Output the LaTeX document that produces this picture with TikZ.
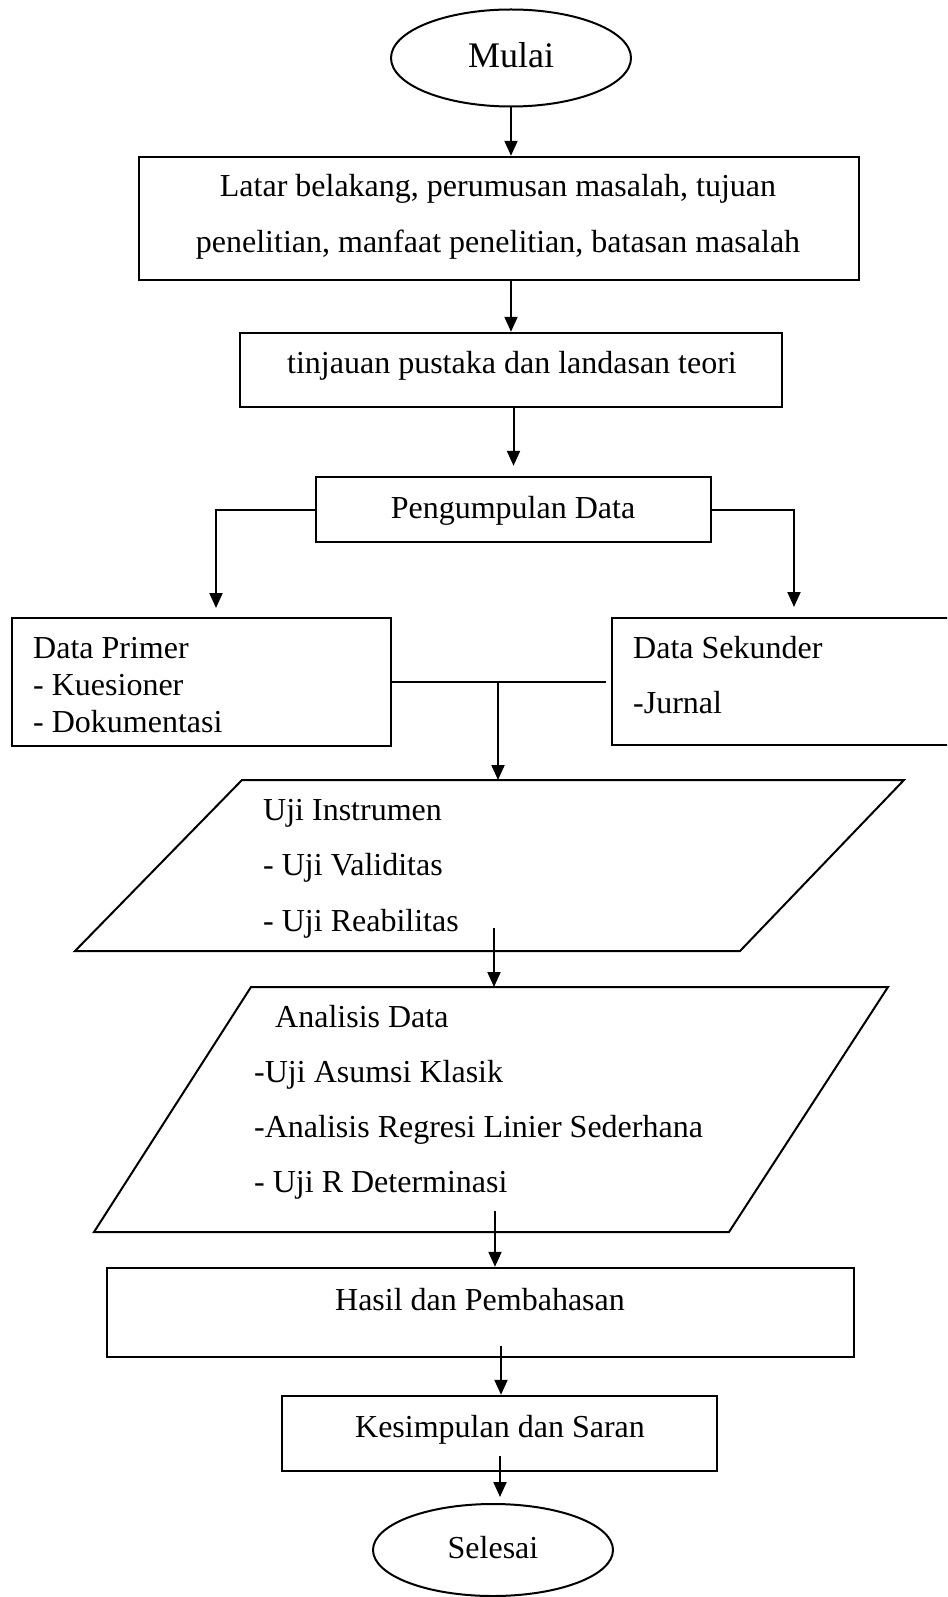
\documentclass[tikz,border=0pt]{standalone}
\usepackage{fontspec}
\setmainfont{Liberation Serif}
\usetikzlibrary{arrows.meta,shapes.geometric,calc}
\tikzset{
  boxshape/.style={draw, line width=2.4pt, rectangle, inner sep=0pt},
  ovalshape/.style={draw, line width=2pt, ellipse, inner sep=0pt},
  paraline/.style={draw, line width=2pt, line join=miter},
  conn/.style={line width=2pt},
  arr/.style={line width=2pt, -{Triangle[length=15pt,width=13pt]}},
  txt/.style={inner sep=0pt, font=\fontsize{32}{38}\selectfont},
  bigtxt/.style={inner sep=0pt, font=\fontsize{36}{42}\selectfont},
}
\begin{document}
\begin{tikzpicture}[x=1pt,y=-1pt]
\useasboundingbox (0,0) rectangle (947,1597);
\clip (0,0) rectangle (947,1597);

% shapes
\node[ovalshape, minimum width=240pt, minimum height=97pt] (mulai) at (511,58) {};
\node[boxshape, minimum width=720pt, minimum height=123pt] (b1) at (499,218.5) {};
\node[boxshape, minimum width=542pt, minimum height=74pt] (b2) at (511,370) {};
\node[boxshape, minimum width=395pt, minimum height=65pt] (pd) at (513.5,509.5) {};
\node[boxshape, minimum width=379pt, minimum height=128pt] (primer) at (201.5,682) {};
\node[boxshape, minimum width=360pt, minimum height=127pt] (sek) at (792,681.5) {};
\coordinate (p1tl) at (242,780);
\coordinate (p1tr) at (904,780);
\coordinate (p1br) at (740,951);
\coordinate (p1bl) at (75,951);
\draw[paraline] (p1tl) -- (p1tr) -- (p1br) -- (p1bl) -- cycle;
\coordinate (p2tl) at (251,987);
\coordinate (p2tr) at (888,987);
\coordinate (p2br) at (729,1232);
\coordinate (p2bl) at (94,1232);
\draw[paraline] (p2tl) -- (p2tr) -- (p2br) -- (p2bl) -- cycle;
\node[boxshape, minimum width=747pt, minimum height=89pt] (hasil) at (480.5,1312.5) {};
\node[boxshape, minimum width=435pt, minimum height=75pt] (kes) at (499.5,1433.5) {};
\node[ovalshape, minimum width=240pt, minimum height=92pt] (selesai) at (493,1550) {};

% texts
\node[bigtxt, anchor=base] (tmulai) at (511,68) {Mulai};
\node[txt, anchor=base] (tb1a) at (498,197) {Latar belakang, perumusan masalah, tujuan};
\node[txt, anchor=base] (tb1b) at (498,252) {penelitian, manfaat penelitian, batasan masalah};
\node[txt, anchor=base] (tb2) at (512,373) {tinjauan pustaka dan landasan teori};
\node[txt, anchor=base] (tpd) at (513,518) {Pengumpulan Data};
\node[txt, anchor=base west] (tpr1) at (33,658) {Data Primer};
\node[txt, anchor=base west] (tpr2) at (33,695) {- Kuesioner};
\node[txt, anchor=base west] (tpr3) at (33,732) {- Dokumentasi};
\node[txt, anchor=base west] (tsk1) at (633,658) {Data Sekunder};
\node[txt, anchor=base west] (tsk2) at (633,713) {-Jurnal};
\node[txt, anchor=base west] (tui1) at (263,820) {Uji Instrumen};
\node[txt, anchor=base west] (tui2) at (263,875) {- Uji Validitas};
\node[txt, anchor=base west] (tui3) at (263,931) {- Uji Reabilitas};
\node[txt, anchor=base west] (tad1) at (275,1027) {Analisis Data};
\node[txt, anchor=base west] (tad2) at (254,1082) {-Uji Asumsi Klasik};
\node[txt, anchor=base west] (tad3) at (254,1137) {-Analisis Regresi Linier Sederhana};
\node[txt, anchor=base west] (tad4) at (254,1192) {- Uji R Determinasi};
\node[txt, anchor=base] (thasil) at (480,1310) {Hasil dan Pembahasan};
\node[txt, anchor=base] (tkes) at (500,1437) {Kesimpulan dan Saran};
\node[txt, anchor=base] (tsel) at (493,1558) {Selesai};

% connectors
\draw[arr] (mulai.south) -- (mulai.south |- b1.north);
\draw[arr] (b2.north |- b1.south) -- (b2.north);
\draw[arr, shorten >=10pt] (pd.north |- b2.south) -- (pd.north);
\coordinate (lt) at (216,608);
\coordinate (rt) at (794,607);
\draw[arr] (pd.west) -| (lt);
\draw[arr] (pd.east) -| (rt);
\draw[conn, shorten >=5pt] (primer.east) -- (primer.east -| sek.west);
\coordinate (j) at (498,682);
\draw[arr] (j) -- (j |- p1tl);
\coordinate (s1) at (494,928);
\draw[arr] (s1) -- (s1 |- p2tl);
\coordinate (s2) at (495,1211);
\draw[arr] (s2) -- (s2 |- hasil.north);
\coordinate (s3) at (501,1346);
\draw[arr] (s3) -- (s3 |- kes.north);
\coordinate (s4) at (500,1456);
\draw[arr, shorten >=6pt] (s4) -- (s4 |- selesai.north);
\end{tikzpicture}
\end{document}
